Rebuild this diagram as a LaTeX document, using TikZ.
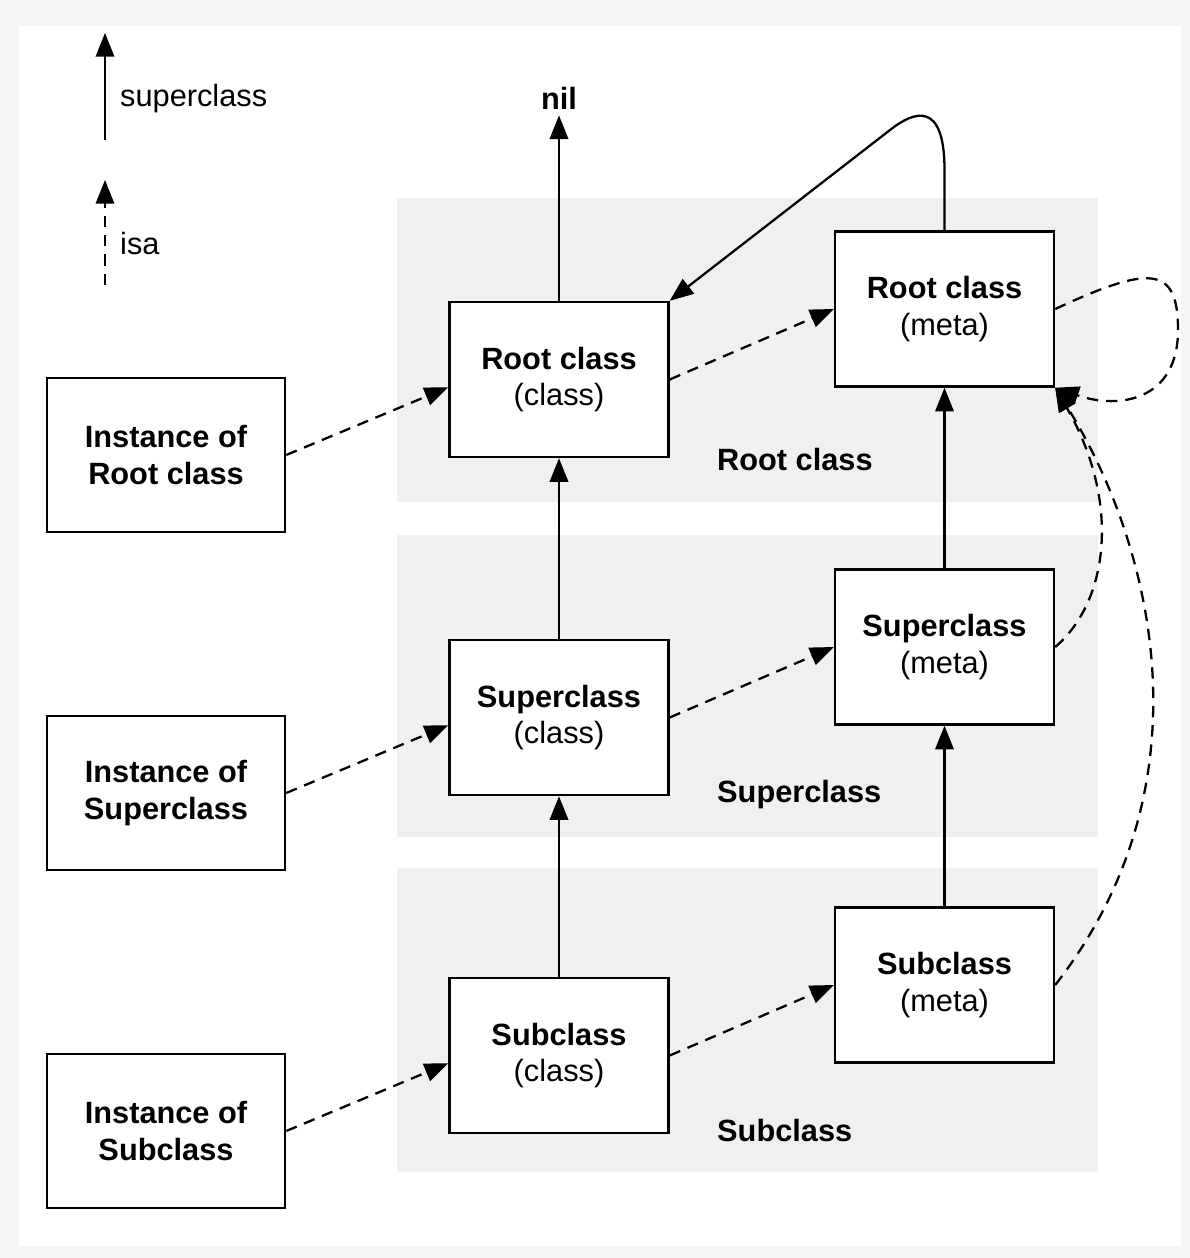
\documentclass[tikz,border=0pt]{standalone}
\usepackage{fontspec}
\setmainfont{Liberation Sans}
\usepackage{tikz}
\usetikzlibrary{arrows.meta}

\begin{document}
\begin{tikzpicture}[x=0.02cm,y=-0.02cm,
    font=\fontsize{17.5}{21}\selectfont,
    box/.style={draw,line width=1.4pt,fill=white,align=center,inner sep=0pt,
      minimum width=4.38cm,minimum height=3.1cm},
    instbox/.style={box,minimum width=4.76cm,minimum height=3.08cm,
      font=\fontsize{17.5}{21}\selectfont\bfseries},
    superarrow/.style={line width=1.3pt,-{Triangle[length=13.5pt,width=10.5pt]}},
    isaarrow/.style={superarrow,dash pattern=on 6.5pt off 4.5pt},
    band/.style={fill=black!6},
    bandlabel/.style={anchor=west,font=\fontsize{17.5}{21}\selectfont\bfseries}]
    \useasboundingbox (0,0) rectangle (1190,1258);
    \fill[black!4] (0,0) rectangle (1190,1258);
    \fill[white] (19,26) rectangle (1181,1246);
    \fill[band] (397,198) rectangle (1098,502);
    \fill[band] (397,535) rectangle (1098,837);
    \fill[band] (397,868) rectangle (1098,1172);

    \coordinate (supfrom) at (105,140);
    \coordinate (supto) at (105,33);
    \coordinate (isafrom) at (105,285);
    \coordinate (isato) at (105,180);
    \draw[superarrow] (supfrom) -- (supto);
    \draw[isaarrow] (isafrom) -- (isato);
    \node[anchor=west] (suplegend) at (114,99) {superclass};
    \node[anchor=west] (isalegend) at (114,244) {isa};

    \node[instbox] (ir) at (166,455) {Instance of\\Root class};
    \node[instbox] (is) at (166,793) {Instance of\\Superclass};
    \node[instbox] (ib) at (166,1131) {Instance of\\Subclass};
    \node[box] (rc) at (559,379.5) {\textbf{Root class}\\(class)};
    \node[box] (sc) at (559,717.5) {\textbf{Superclass}\\(class)};
    \node[box] (bc) at (559,1055.5) {\textbf{Subclass}\\(class)};
    \node[box] (rm) at (944.5,309) {\textbf{Root class}\\(meta)};
    \node[box] (sm) at (944.5,647) {\textbf{Superclass}\\(meta)};
    \node[box] (bm) at (944.5,985) {\textbf{Subclass}\\(meta)};
    \node[font=\fontsize{17.5}{21}\selectfont\bfseries] (nil) at (559,98) {nil};
    \node[bandlabel] (rlabel) at (711,460) {Root class};
    \node[bandlabel] (slabel) at (711,795) {Superclass};
    \node[bandlabel] (blabel) at (711,1130) {Subclass};

    \draw[superarrow] (rc.north) -- (nil.south);
    \draw[superarrow] (sc.north) -- (rc.south);
    \draw[superarrow] (bc.north) -- (sc.south);
    \draw[superarrow] (sm.north) -- (rm.south);
    \draw[superarrow] (bm.north) -- (sm.south);
    \draw[superarrow] (rm.north) -- (944.5,170) .. controls (944.5,100) and (914,111) .. (890,130) -- (rc.north east);

    \draw[isaarrow] (ir.east) -- (rc.184);
    \draw[isaarrow] (is.east) -- (sc.184);
    \draw[isaarrow] (ib.east) -- (bc.184);
    \draw[isaarrow] (rc.east) -- (rm.west);
    \draw[isaarrow] (sc.east) -- (sm.west);
    \draw[isaarrow] (bc.east) -- (bm.west);
    \draw[isaarrow] (rm.east) .. controls (1150,265) and (1178,265) .. (1178,330)
      .. controls (1178,400) and (1120,410) .. (rm.south east);
    \draw[isaarrow] (sm.east) .. controls (1110,600) and (1120,500) .. (rm.south east);
    \draw[isaarrow] (bm.east) .. controls (1215,780) and (1150,540) .. (rm.south east);
  \end{tikzpicture}
\end{document}
